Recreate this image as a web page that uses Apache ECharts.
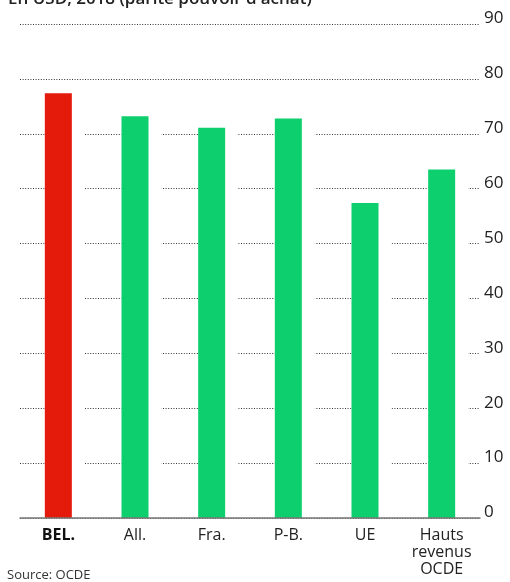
<!DOCTYPE html>
<html>
<head>
<meta charset="utf-8">
<script src="https://cdn.jsdelivr.net/npm/echarts@6/dist/echarts.min.js"></script>
<style>
  html, body { margin: 0; padding: 0; background: #fff; }
  #chart { width: 510px; height: 582px; }
</style>
</head>
<body>
<div id="chart"></div>
<script>
// Revenu par habitant, en USD PPA (milliers)
const categories = ['BEL.', 'All.', 'Fra.', 'P-B.', 'UE', 'Hauts\nrevenus\nOCDE'];
const values = [77.4, 73.2, 71.1, 72.8, 57.4, 63.5];
const highlight = 'BEL.';
const yTicks = [0, 10, 20, 30, 40, 50, 60, 70, 80, 90];

const RED = '#e41a0b';
const GREEN = '#0dcf6d';
const FONT = '"Open Sans", "Noto Sans", sans-serif';

const chart = echarts.init(document.getElementById('chart'));

chart.setOption({
  animation: false,
  backgroundColor: '#fff',
  textStyle: { fontFamily: FONT },
  grid: { left: 20, right: 30, top: 24, bottom: 64 },
  graphic: [
    {
      type: 'text', left: 8, top: -9,
      style: { text: "En USD, 2018 (parité pouvoir d'achat)", font: '600 17px ' + FONT, fill: '#222' }
    },
    {
      type: 'text', left: 7, top: 569,
      style: { text: 'Source: OCDE', font: '13px ' + FONT, fill: '#333' }
    }
  ],
  xAxis: {
    type: 'category',
    data: categories,
    z: 5,
    axisTick: { show: false },
    axisLine: { lineStyle: { color: '#777', width: 1.5 } },
    axisLabel: {
      interval: 0,
      margin: 9,
      fontSize: 16,
      lineHeight: 17,
      color: '#222',
      formatter: v => v === highlight ? '{b|' + v + '}' : v,
      rich: { b: { fontWeight: 'bold', fontSize: 16, color: '#111' } }
    }
  },
  yAxis: {
    type: 'value',
    position: 'right',
    min: yTicks[0],
    max: yTicks[yTicks.length - 1],
    interval: 10,
    axisLine: { show: false },
    axisTick: { show: false },
    axisLabel: {
      margin: 4,
      fontSize: 17,
      color: '#222',
      verticalAlign: 'bottom',
      padding: [0, 0, -3, 0]
    },
    splitLine: { lineStyle: { color: '#333', type: [1, 1.6], width: 1 } }
  },
  series: [
    {
      // white halo that breaks the dotted gridlines around each bar
      type: 'bar',
      data: values,
      barWidth: 40,
      itemStyle: { color: '#fff' },
      silent: true,
      z: 2
    },
    {
      type: 'bar',
      data: values.map((v, i) => ({
        value: v,
        itemStyle: { color: categories[i] === highlight ? RED : GREEN }
      })),
      barWidth: 27,
      barGap: '-100%',
      z: 3
    }
  ]
});
</script>
</body>
</html>
